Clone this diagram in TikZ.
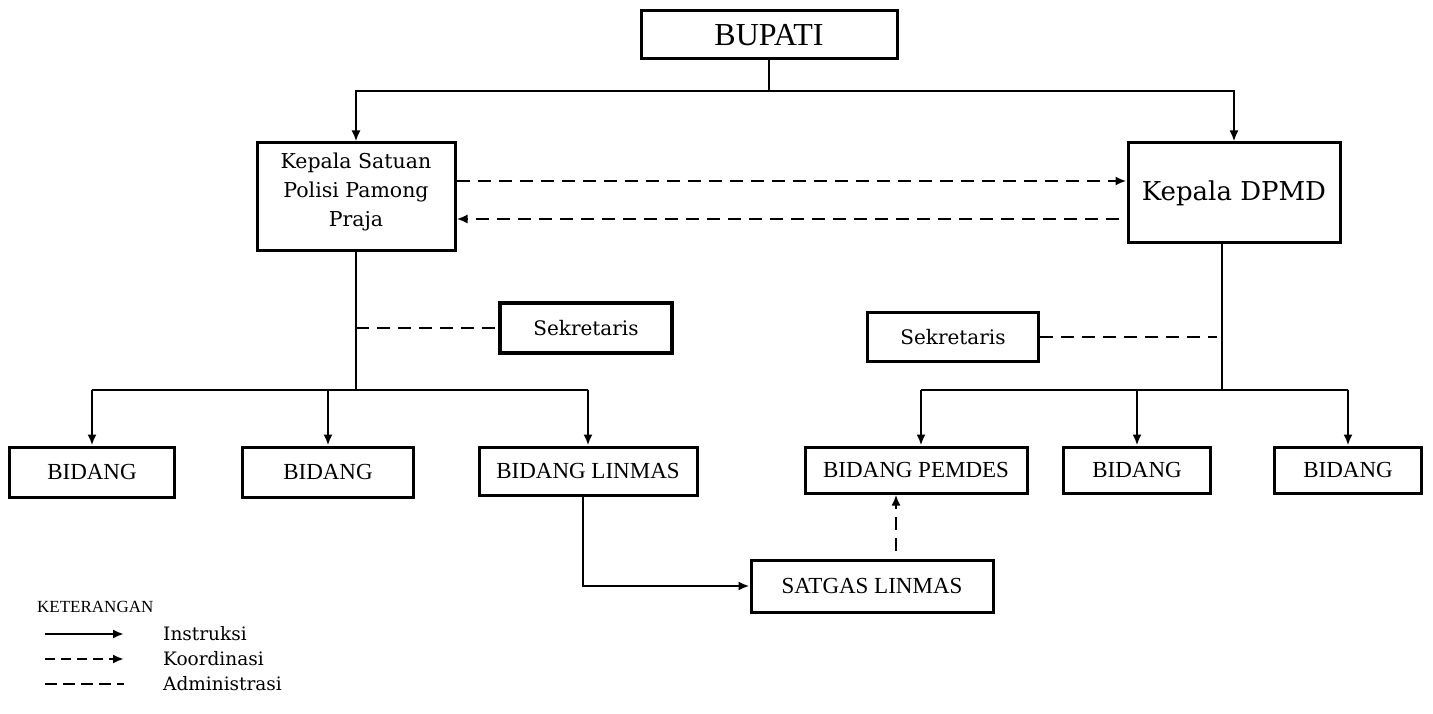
\documentclass[tikz,border=0pt]{standalone}
\usepackage{fontspec}
\setmainfont{Liberation Serif}
\newfontfamily\dvs{DejaVu Serif}
\usetikzlibrary{arrows.meta}
\begin{document}
\begin{tikzpicture}[x=1pt,y=-1pt,
  box/.style={draw,line width=3pt,inner sep=0pt,align=center,font=\fontsize{23}{27}\selectfont},
  txt/.style={inner sep=0pt,align=center},
  ln/.style={line width=2.8pt},
  arr/.style={line width=2.8pt,-{Latex[length=11pt,width=9pt]}},
  koord/.style={line width=2.6pt,dash pattern=on 13pt off 8pt,-{Latex[length=11pt,width=9pt]}},
  admin/.style={line width=2.6pt,dash pattern=on 13pt off 8pt}]
\useasboundingbox (0,0) rectangle (1433,714);
% nodes
\node[box,minimum width=256pt,minimum height=48pt,font=\fontsize{32}{36}\selectfont] (bupati) at (769,35) {BUPATI};
\node[box,minimum width=198pt,minimum height=108pt] (satpol) at (356,197) {};
\node[txt,font=\dvs\fontsize{20.5}{29}\selectfont] (satpoltext) at (356,192) {Kepala Satuan\\Polisi Pamong\\Praja};
\node[box,minimum width=212pt,minimum height=100pt,font=\dvs\fontsize{26}{30}\selectfont] (dpmd) at (1234,193) {Kepala DPMD};
\node[box,line width=4pt,minimum width=172pt,minimum height=50pt,font=\dvs\fontsize{20}{24}\selectfont] (sek1) at (586,328) {Sekretaris};
\node[box,minimum width=171pt,minimum height=49pt,font=\dvs\fontsize{20}{24}\selectfont] (sek2) at (953,337) {Sekretaris};
\node[box,minimum width=165pt,minimum height=50pt] (b1) at (92,472) {BIDANG};
\node[box,minimum width=171pt,minimum height=50pt] (b2) at (328,472) {BIDANG};
\node[box,minimum width=218pt,minimum height=48pt] (blinmas) at (588,471) {BIDANG LINMAS};
\node[box,minimum width=222pt,minimum height=46pt] (bpemdes) at (916,470) {BIDANG PEMDES};
\node[box,minimum width=147pt,minimum height=46pt] (b4) at (1137,470) {BIDANG};
\node[box,minimum width=147pt,minimum height=46pt] (b5) at (1348,470) {BIDANG};
\node[box,minimum width=242pt,minimum height=52pt] (satgas) at (872,586) {SATGAS LINMAS};
% junctions
\coordinate (j0) at (769,91);
\coordinate (jl) at (356,390);
\coordinate (jsl) at (356,328);
\coordinate (jrt) at (1222,243);
\coordinate (jr) at (1222,390);
\coordinate (jsr) at (1222,337);
\coordinate (jlin) at (583,586);
% top
\draw[ln] (bupati.south) -- (j0);
\draw[arr] (j0) -| (satpol.north);
\draw[arr] (j0) -| (dpmd.north);
% coordination
\draw[koord] ([yshift=16pt]satpol.east) -- ([yshift=16pt]satpol.east -| dpmd.west);
\draw[koord,shorten <=8pt] ([yshift=-22pt]satpol.east -| dpmd.west) -- ([yshift=-22pt]satpol.east);
% left tree
\draw[ln] (satpol.south) -- (jl);
\draw[admin] (jsl) -- (sek1.west);
\draw[ln] (b1.north |- jl) -- (blinmas.north |- jl);
\draw[arr] (b1.north |- jl) -- (b1.north);
\draw[arr] (b2.north |- jl) -- (b2.north);
\draw[arr] (blinmas.north |- jl) -- (blinmas.north);
% right tree
\draw[ln] (jrt) -- (jr);
\draw[admin,shorten >=5pt] (sek2.east) -- (jsr);
\draw[ln] ([xshift=5pt]bpemdes.north |- jr) -- (b5.north |- jr);
\draw[arr] ([xshift=5pt]bpemdes.north |- jr) -- ([xshift=5pt]bpemdes.north);
\draw[arr] (b4.north |- jr) -- (b4.north);
\draw[arr] (b5.north |- jr) -- (b5.north);
% linmas
\draw[arr] (jlin |- blinmas.south) -- (jlin) -- (satgas.west);
\draw[koord,shorten <=8pt] ([xshift=24pt]satgas.north) -- ([xshift=24pt]satgas.north |- bpemdes.south);
% legend
\node[txt,anchor=west,font=\fontsize{17}{20}\selectfont] (ket) at (37,607) {KETERANGAN};
\coordinate (l1a) at (45,634); \coordinate (l1b) at (124,634);
\coordinate (l2a) at (45,659); \coordinate (l2b) at (124,659);
\coordinate (l3a) at (45,684); \coordinate (l3b) at (124,684);
\draw[arr,line width=2.4pt] (l1a) -- (l1b);
\draw[line width=2.2pt,dash pattern=on 10pt off 6pt,-{Latex[length=11pt,width=9pt]}] (l2a) -- (l2b);
\draw[line width=2.6pt,dash pattern=on 12pt off 6pt] (l3a) -- (l3b);
\node[txt,anchor=west,font=\dvs\fontsize{18.5}{22}\selectfont] (lg1) at (163,634) {Instruksi};
\node[txt,anchor=west,font=\dvs\fontsize{18.5}{22}\selectfont] (lg2) at (163,659) {Koordinasi};
\node[txt,anchor=west,font=\dvs\fontsize{18.5}{22}\selectfont] (lg3) at (163,684) {Administrasi};
\end{tikzpicture}
\end{document}
